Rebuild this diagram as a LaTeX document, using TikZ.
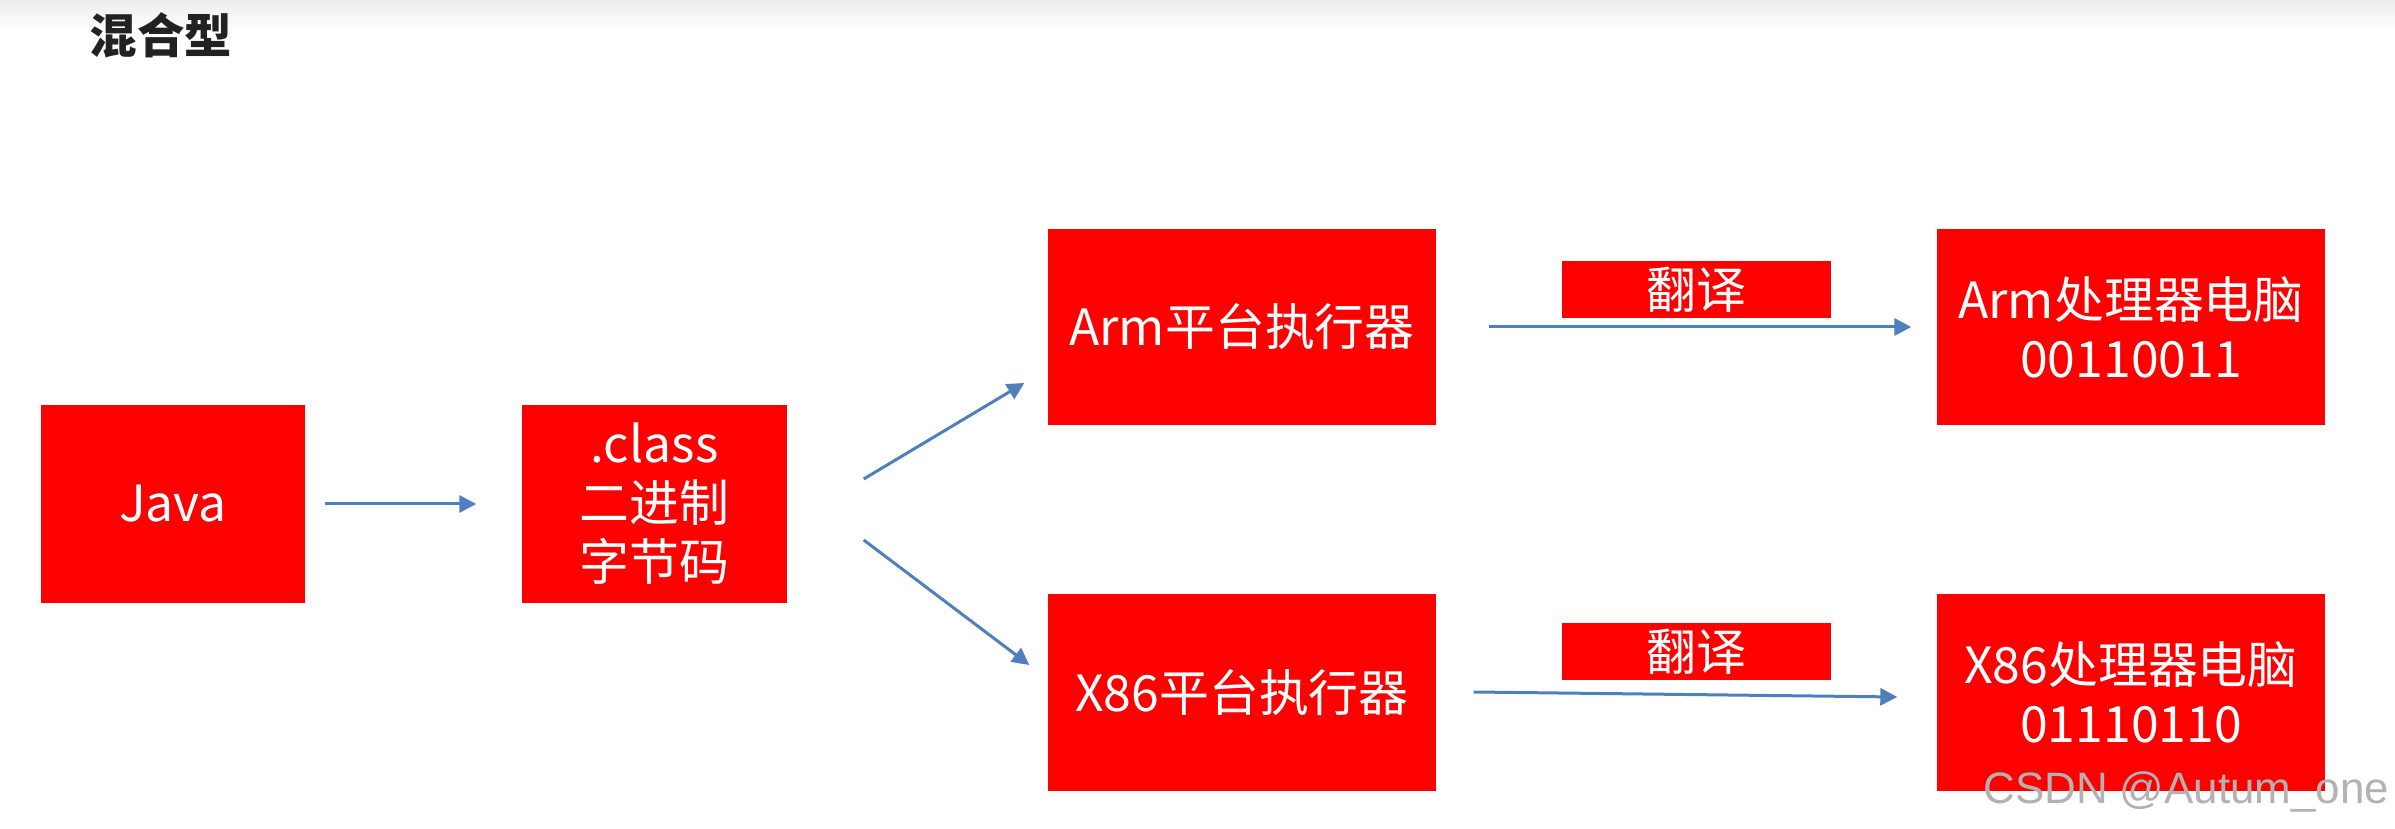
\documentclass[tikz,border=0pt]{standalone}
\usepackage{fontspec}
\setmainfont{Noto Sans CJK SC}
\newfontfamily\cjk{Noto Sans CJK SC}
\newfontfamily\wmfont{Liberation Sans}
\usetikzlibrary{arrows.meta,calc}
\definecolor{boxred}{HTML}{FF0000}
\definecolor{arrowblue}{HTML}{4F7FBD}
\definecolor{titlegray}{HTML}{222222}
\tikzset{
  redbox/.style={fill=boxred, draw=none, text=white, align=center, inner sep=0pt,
    font=\cjk\fontsize{14.2pt}{16.8pt}\selectfont},
  bigbox/.style={redbox, minimum width=3.88cm, minimum height=1.96cm},
  smallbox/.style={redbox, minimum width=2.64cm, minimum height=1.98cm},
  labelbox/.style={redbox, minimum width=2.69cm, minimum height=0.57cm},
  flow/.style={draw=arrowblue, line width=0.03cm, -{Triangle[length=0.17cm,width=0.17cm]}}
}
\begin{document}
\begin{tikzpicture}
\useasboundingbox (0,0) rectangle (23.95,-8.29);
\shade[top color=black!7, bottom color=white] (0,0) rectangle (23.95,-0.32);
\node[font=\cjk\bfseries\fontsize{13.5pt}{16pt}\selectfont, text=titlegray] (title) at (1.61,-0.35) {混合型};

\node[smallbox] (java) at (1.73,-5.04) {Java};
\node[smallbox, minimum width=2.65cm] (class) at (6.545,-5.04) {.class\\二进制\\字节码};
\node[bigbox] (armexec) at (12.42,-3.27) {Arm平台执行器};
\node[bigbox] (x86exec) at (12.42,-6.925) {X86平台执行器};
\node[bigbox] (armpc) at (21.31,-3.27) {Arm处理器电脑\\00110011};
\node[bigbox] (x86pc) at (21.31,-6.925) {X86处理器电脑\\01110110};
\node[labelbox] (tr1) at (16.965,-2.895) {翻译};
\node[labelbox] (tr2) at (16.965,-6.515) {翻译};

\draw[flow] ($(java.east)+(0.19,0)$) -- ($(class.west)+(-0.45,0)$);
\draw[flow] ($(class.east)+(0.76,0.25)$) -- ($(armexec.west)+(-0.23,-0.56)$);
\draw[flow] ($(class.east)+(0.76,-0.36)$) -- ($(x86exec.west)+(-0.18,0.275)$);
\draw[flow] ($(armexec.east)+(0.52,0)$) -- ($(armpc.west)+(-0.25,0)$);
\draw[flow] ($(x86exec.east)+(0.37,0.005)$) -- ($(x86pc.west)+(-0.39,-0.045)$);

\node[font=\wmfont\fontsize{12.5pt}{14pt}\selectfont, text=black!30, anchor=base east, inner sep=0pt] (wm) at (23.90,-8.04) {CSDN @Autum\_one};
\end{tikzpicture}
\end{document}
